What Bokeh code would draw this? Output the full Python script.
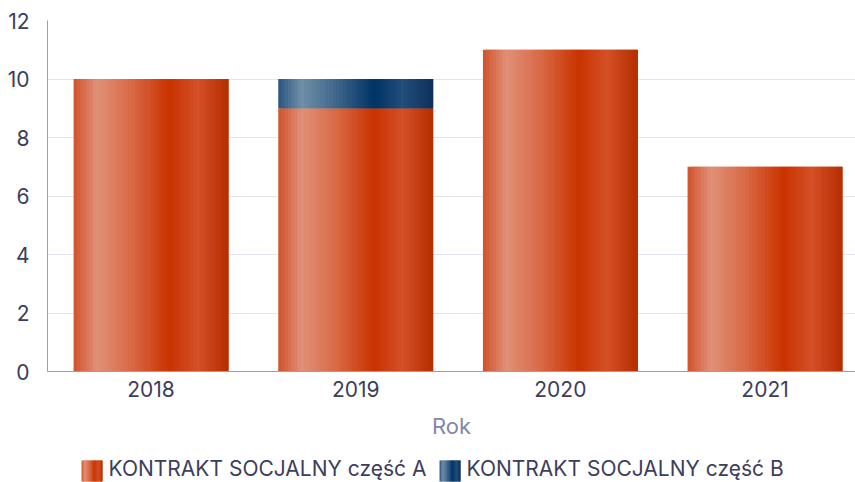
from bokeh.plotting import figure
from bokeh.layouts import column
from bokeh.models import FixedTicker, ColumnDataSource
from bokeh.core.properties import value
from bokeh.embed import file_html
from bokeh.resources import INLINE

years = ["2018", "2019", "2020", "2021"]
part_a = [10, 9, 11, 7]
part_b = [0, 1, 0, 0]
series_names = ["KONTRAKT SOCJALNY część A", "KONTRAKT SOCJALNY część B"]

# gradient stops (position, colour) imitating the shaded bars
grad_a = [(0.0, (0xd1, 0x52, 0x2b)), (0.15, (0xe0, 0x90, 0x78)), (0.38, (0xd8, 0x68, 0x44)),
          (0.62, (0xc9, 0x33, 0x00)), (0.8, (0xd4, 0x50, 0x28)), (1.0, (0xb5, 0x2e, 0x00))]
grad_b = [(0.0, (0x2a, 0x55, 0x80)), (0.15, (0x70, 0x8f, 0xa8)), (0.38, (0x3e, 0x65, 0x8a)),
          (0.62, (0x00, 0x33, 0x66)), (0.8, (0x22, 0x4e, 0x7a)), (1.0, (0x0c, 0x30, 0x5c))]


def grad_color(stops, t):
    for (p0, c0), (p1, c1) in zip(stops[:-1], stops[1:]):
        if p0 <= t <= p1:
            f = (t - p0) / (p1 - p0)
            c = [round(a + (b - a) * f) for a, b in zip(c0, c1)]
            return "#%02x%02x%02x" % tuple(c)
    return "#%02x%02x%02x" % stops[-1][1]


def gradient_quads(fig, lefts, rights, bottoms, tops, stops, n):
    for j in range(n):
        t = (j + 0.5) / n
        ls = [l + (r - l) * j / n for l, r in zip(lefts, rights)]
        rs = [min(l + (r - l) * (j + 2) / n, r) for l, r in zip(lefts, rights)]
        src = ColumnDataSource(dict(left=ls, right=rs, bottom=bottoms, top=tops))
        fig.quad(left="left", right="right", bottom="bottom", top="top", source=src,
                 fill_color=grad_color(stops, t), line_color=None)


FONT = "Inter"
TEXT = "#3d3d5c"
LINE = "#9b9bc2"
GRID = "#e2e2ee"

p = figure(frame_width=808, frame_height=351, x_range=(-0.506, 3.442), y_range=(0, 12),
           output_backend="svg", toolbar_location=None,
           min_border_left=47, min_border_right=0, min_border_top=20, min_border_bottom=74)
p.outline_line_color = None
p.background_fill_color = "white"
p.border_fill_color = "white"

xs = list(range(len(years)))
bar_w = 0.757
lefts = [x - bar_w / 2 for x in xs]
rights = [x + bar_w / 2 for x in xs]
gradient_quads(p, lefts, rights, [0] * len(xs), part_a, grad_a, 48)
gradient_quads(p, lefts, rights, part_a, [a + b for a, b in zip(part_a, part_b)], grad_b, 48)

# axes
p.xaxis.ticker = FixedTicker(ticks=xs)
p.xaxis.major_label_overrides = {i: y for i, y in enumerate(years)}
p.xaxis.axis_label = "Rok"
p.xaxis.axis_label_text_font = FONT
p.xaxis.axis_label_text_font_size = "22px"
p.xaxis.axis_label_text_font_style = "normal"
p.xaxis.axis_label_text_color = "#8585ad"
p.xaxis.axis_label_standoff = 13
p.xaxis.major_label_standoff = 3
p.yaxis.ticker = FixedTicker(ticks=[0, 2, 4, 6, 8, 10, 12])
p.yaxis.major_label_standoff = 12
for ax in (p.xaxis, p.yaxis):
    ax.axis_line_color = LINE
    ax.axis_line_width = 1
    ax.major_tick_line_color = None
    ax.minor_tick_line_color = None
    ax.major_label_text_font = FONT
    ax.major_label_text_font_size = "21px"
    ax.major_label_text_color = TEXT
p.xgrid.grid_line_color = None
p.ygrid.grid_line_color = GRID
p.ygrid.ticker = FixedTicker(ticks=[0, 2, 4, 6, 8, 10, 12])

# legend drawn in its own strip; its frame is aligned with the chart frame,
# so the x range maps straight onto page pixels 47..855
leg = figure(width=855, height=37, x_range=(47, 855), y_range=(0, 37),
             output_backend="svg", toolbar_location=None,
             x_axis_type=None, y_axis_type=None,
             min_border_left=47, min_border_right=0, min_border_top=0, min_border_bottom=0)
leg.outline_line_color = None
leg.xgrid.visible = False
leg.ygrid.visible = False
sw_left = [81, 439]
gradient_quads(leg, [sw_left[0]], [sw_left[0] + 21], [1], [22], grad_a, 14)
gradient_quads(leg, [sw_left[1]], [sw_left[1] + 21], [1], [22], grad_b, 14)
leg.text(x=[l + 27 for l in sw_left], y=[14, 14], text=series_names,
         text_font=value(FONT), text_font_size="21px", text_color=TEXT,
         text_baseline="middle", text_align="left")

open("out.html", "w").write(file_html(column(p, leg, spacing=0), INLINE))
